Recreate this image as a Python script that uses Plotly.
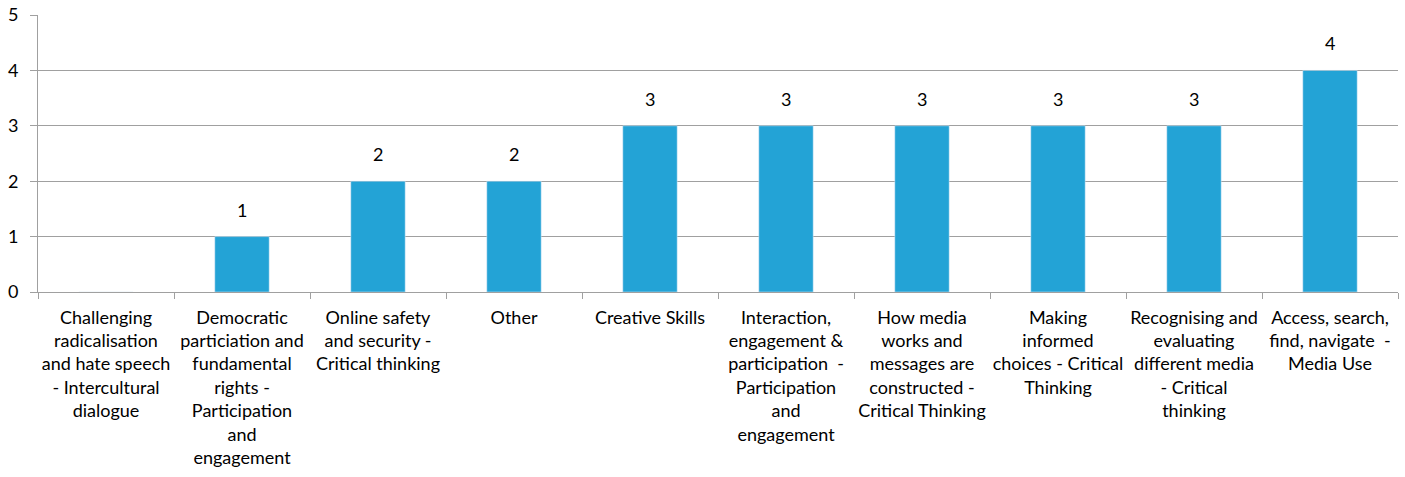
import plotly.graph_objects as go

categories = [
    "Challenging<br>radicalisation<br>and hate speech<br>- Intercultural<br>dialogue",
    "Democratic<br>particiation and<br>fundamental<br>rights -<br>Participation<br>and<br>engagement",
    "Online safety<br>and security -<br>Critical thinking",
    "Other",
    "Creative Skills",
    "Interaction,<br>engagement &<br>participation  -<br>Participation<br>and<br>engagement",
    "How media<br>works and<br>messages are<br>constructed -<br>Critical Thinking",
    "Making<br>informed<br>choices - Critical<br>Thinking",
    "Recognising and<br>evaluating<br>different media<br>- Critical<br>thinking",
    "Access, search,<br>find, navigate  -<br>Media Use",
]
values = [0, 1, 2, 2, 3, 3, 3, 3, 3, 4]

font = dict(family="Lato, 'Open Sans', sans-serif", size=18, color="black")

fig = go.Figure()
fig.add_trace(go.Bar(
    x=categories, y=values, marker_color="#23A3D6", width=0.4,
))

# value labels above the bars (none for zero)
for c, v in zip(categories, values):
    if v:
        fig.add_annotation(x=c, y=v, text=str(v), showarrow=False,
                           yanchor="bottom", yshift=14, font=font)

fig.update_layout(
    width=1405, height=477,
    margin=dict(l=38, r=7, t=15, b=185),
    plot_bgcolor="white", paper_bgcolor="white",
    font=font, showlegend=False,
)
fig.update_xaxes(
    type="category", showline=True, linecolor="#A0A0A0", linewidth=1,
    ticks="outside", tickson="boundaries", ticklen=6, tickcolor="#A0A0A0",
    tickangle=0, tickfont=font, ticklabelstandoff=9, automargin=False,
)
fig.update_yaxes(
    range=[0, 5], dtick=1, showline=True,
    linecolor="#A0A0A0", linewidth=1,
    showgrid=True, gridcolor="#A0A0A0", gridwidth=1,
    ticks="outside", ticklen=7, tickcolor="#A0A0A0", tickfont=font,
    ticklabelstandoff=8, zeroline=False, automargin=False,
)

fig.write_html("out.html", config={"displayModeBar": False},
               post_script="document.body.style.margin='0';")
